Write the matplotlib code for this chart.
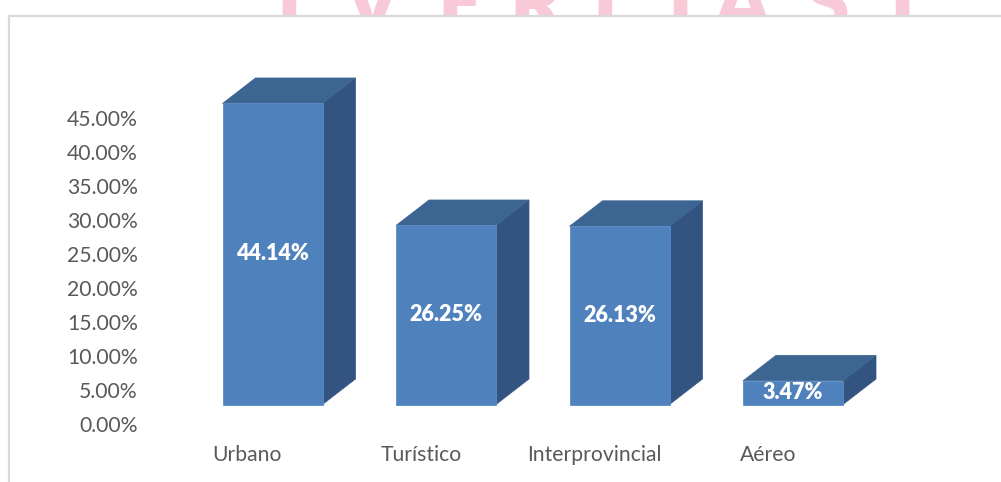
import matplotlib
matplotlib.use("Agg")
import matplotlib.pyplot as plt
from matplotlib.patches import Polygon, Rectangle

# ---- data ----
categories = ["Urbano", "Turístico", "Interprovincial", "Aéreo"]
values = [44.14, 26.25, 26.13, 3.47]
value_labels = ["44.14%", "26.25%", "26.13%", "3.47%"]
yticks = [0, 5, 10, 15, 20, 25, 30, 35, 40, 45]
ytick_labels = ["%.2f%%" % v for v in yticks]
watermark_letters = ["I", "V", "E", "R", "I", "T", "A", "S", "T"]
watermark_x = [289, 372, 460, 536, 605, 680, 742, 827, 902]

W, H = 1001, 482
fig = plt.figure(figsize=(W / 100, H / 100), dpi=100)
fig.patch.set_facecolor("white")

FONT = "Lato"
FRONT = "#4F81BD"
TOP = "#3D6592"
SIDE = "#335480"
TXT = "#595959"

def fx(px):
    return px / W

def fy(py):
    return 1 - py / H

# watermark (behind the chart area)
for ch, x in zip(watermark_letters, watermark_x):
    fig.text(fx(x), fy(31), ch, ha="center", va="baseline", fontsize=58,
             fontweight="heavy", family=FONT, color="#F8C9D6", zorder=-3)

# chart area with light gray border
fig.add_artist(Rectangle((fx(8.5), fy(H + 20)), fx(W + 20), (H + 20 - 16) / H,
                         transform=fig.transFigure, facecolor="white",
                         edgecolor="#D9D9D9", linewidth=1.6, zorder=-2))

pxu = 173.5        # px per category
pxp = 6.82         # px per percent
ylim = (0, 50)
xlim = (-0.5, 3.5)
left_px = 272.5 - 0.5 * pxu
axw = 4 * pxu / W
axh = (ylim[1] - ylim[0]) * pxp / H

# axis plane (tick labels), slightly in front of bars
ax2 = fig.add_axes([fx(left_px - 25), 1 - 424.5 / H, axw, axh], zorder=0)
ax2.set_xlim(*xlim)
ax2.set_ylim(*ylim)
ax2.patch.set_visible(False)
for s in ax2.spines.values():
    s.set_visible(False)
ax2.set_yticks(yticks)
ax2.set_yticklabels(ytick_labels, family=FONT, fontsize=15.2, color=TXT)
ax2.set_xticks(range(len(categories)))
ax2.set_xticklabels(categories, family=FONT, fontsize=15.2, color=TXT)
ax2.tick_params(axis="y", length=0, pad=16.5)
ax2.tick_params(axis="x", length=0, pad=15)

# bars
ax = fig.add_axes([fx(left_px), 1 - 404.5 / H, axw, axh], zorder=1)
ax.set_xlim(*xlim)
ax.set_ylim(*ylim)
ax.axis("off")

bw = 100 / pxu
dx = 33 / pxu
dy = 25.5 / pxp
for i, (v, lab) in enumerate(zip(values, value_labels)):
    x0, x1 = i - bw / 2, i + bw / 2
    side = Polygon([(x1, 0), (x1 + dx, dy), (x1 + dx, v + dy), (x1, v)],
                   closed=True, facecolor=SIDE, edgecolor=SIDE, lw=0.5, clip_on=False)
    top = Polygon([(x0, v), (x1, v), (x1 + dx, v + dy), (x0 + dx, v + dy)],
                  closed=True, facecolor=TOP, edgecolor=TOP, lw=0.5, clip_on=False)
    ax.add_patch(side)
    ax.add_patch(top)
    ax.bar(i, v, width=bw, color=FRONT, edgecolor="#5B8CC8", linewidth=0.6, clip_on=False)
    ax.text(i, v / 2, lab, ha="center", va="center", color="white",
            fontsize=15.5, fontweight="heavy", family=FONT)

fig.savefig("out.png", dpi=100)
